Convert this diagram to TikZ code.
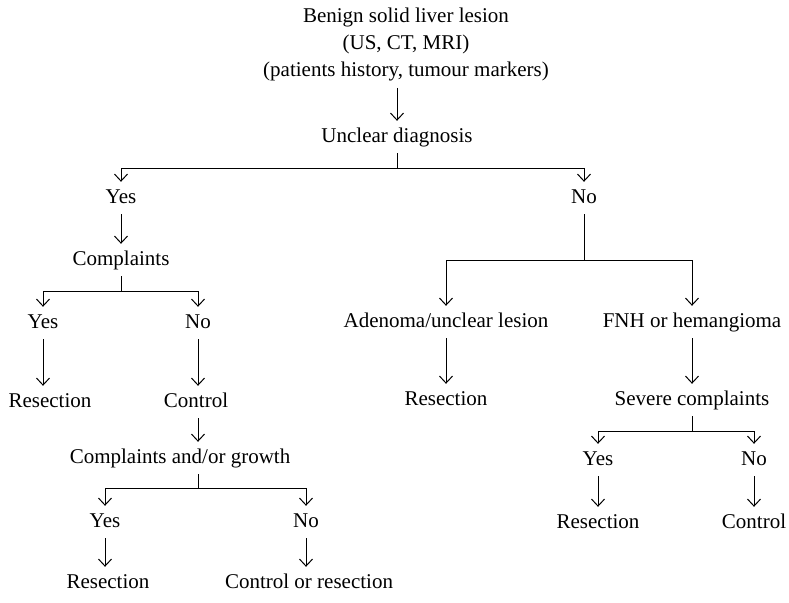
\documentclass[tikz,border=0pt]{standalone}
\usepackage{fontspec}
\setmainfont{Liberation Serif}
\usetikzlibrary{arrows.meta,calc}
\newcommand{\flowtip}{Straight Barb[length=7pt,width=13pt]}
\tikzstyle{item}=[inner sep=7pt,text height=14pt,text depth=4pt,
                  font=\fontsize{21}{27}\selectfont]
\tikzstyle{stem}=[line width=1pt]
\tikzstyle{flow}=[-\flowtip,line width=1pt]

\begin{document}
\begin{tikzpicture}[x=1pt,y=-1pt]

  % Page frame (pixel units, y runs down)
  \useasboundingbox (0,0) rectangle (789,602);

  % Top
  \node[inner sep=7pt,align=center,font=\fontsize{21}{27}\selectfont]
    at (406,44) (title) {Benign solid liver lesion\\(US, CT, MRI)\\(patients history, tumour markers)};
  \node[item] at (397,137) (unclear) {Unclear diagnosis};
  \node[item] at (121,198) (yesA) {Yes};
  \node[item] at (584,198) (noA)  {No};

  % Left branch
  \node[item] at (121,260) (compl) {Complaints};
  \node[item] at (43,323)  (yesB)  {Yes};
  \node[item] at (198,323) (noB)   {No};
  \node[item] at (50,402)  (resB)  {Resection};
  \node[item] at (196,402) (ctrlB) {Control};
  \node[item] at (180,458) (cgrow) {Complaints and/or growth};
  \node[item] at (105,522) (yesC)  {Yes};
  \node[item] at (306,522) (noC)   {No};
  \node[item] at (108,583) (resC)  {Resection};
  \node[item] at (309,583) (ctrlC) {Control or resection};

  % Right branch
  \node[item] at (446,322) (aden)   {Adenoma/unclear lesion};
  \node[item] at (692,322) (fnh)    {FNH or hemangioma};
  \node[item] at (446,400) (resD)   {Resection};
  \node[item] at (692,400) (severe) {Severe complaints};
  \node[item] at (598,460) (yesE)   {Yes};
  \node[item] at (754,460) (noE)    {No};
  \node[item] at (598,523) (resE)   {Resection};
  \node[item] at (754,523) (ctrlE)  {Control};

  % Arrows
  \draw[flow] (title.south -| unclear) -- (unclear);
  \draw[stem] (unclear.south) -- ++(0,15) coordinate (forkA);
  \draw[flow] (forkA) -| (yesA);
  \draw[flow] (forkA) -| (noA);

  \draw[flow] (yesA) -- (compl);
  \draw[stem] (compl.south) -- ++(0,15) coordinate (forkB);
  \draw[flow] (forkB) -| (yesB);
  \draw[flow] (forkB) -| (noB);
  \draw[flow] (yesB) -- (yesB |- resB.north);
  \draw[flow] (noB) -- (noB |- ctrlB.north);
  \draw[flow] (ctrlB.south -| noB) -- (noB |- cgrow.north);
  \draw[stem] (cgrow.south -| noB) -- ++(0,14) coordinate (forkC);
  \draw[flow] (forkC) -| (yesC);
  \draw[flow] (forkC) -| (noC);
  \draw[flow] (yesC) -- (yesC |- resC.north);
  \draw[flow] (noC) -- (noC |- ctrlC.north);

  \draw[stem] (noA.south) -- ++(0,46) coordinate (forkD);
  \draw[flow] (forkD) -| (aden);
  \draw[flow] (forkD) -| (fnh);
  \draw[flow] (aden) -- (resD);
  \draw[flow] (fnh) -- (severe);
  \draw[stem] (severe.south) -- ++(0,15) coordinate (forkE);
  \draw[flow] (forkE) -| (yesE);
  \draw[flow] (forkE) -| (noE);
  \draw[flow] (yesE) -- (resE);
  \draw[flow] (noE) -- (ctrlE);
\end{tikzpicture}
\end{document}
